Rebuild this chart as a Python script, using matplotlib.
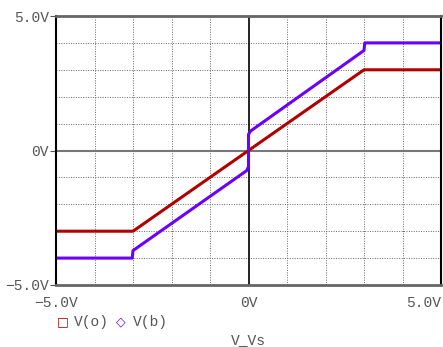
import matplotlib.pyplot as plt

# breakpoints
vs_o = [-5.0, -3.0, 3.0, 5.0]
v_o = [-3.0, -3.0, 3.0, 3.0]

vs_b = [-5.0, -3.02, -3.0, -0.05, 0.0, 0.0, 0.05, 3.0, 3.02, 5.0]
v_b = [-4.0, -4.0, -3.72, -0.75, -0.6, 0.6, 0.72, 3.72, 4.0, 4.0]

xticks = [-5, 0, 5]
xlabels = ["\u22125.0V", "0V", "5.0V"]
yticks = [-5, 0, 5]
ylabels = ["\u22125.0V", "0V", "5.0V"]

red = "#b00000"
blue = "#6a00ff"
gray = "#555555"
mono = ["Liberation Mono", "DejaVu Sans Mono"]

fig = plt.figure(figsize=(4.43, 3.47), dpi=100)
ax = fig.add_axes([56/443, 62/347, 385/443, 269/347])

ax.plot(vs_o, v_o, color=red, lw=2.2, solid_capstyle="butt")
ax.plot(vs_b, v_b, color=blue, lw=2.2, solid_capstyle="butt")

ax.set_xlim(-5, 5)
ax.set_ylim(-5, 5)

# dotted grid every 1 V
for g in range(-4, 5):
    if g == 0:
        continue
    ax.axvline(g, color="#666666", lw=0.7, ls=(0, (1, 1.5)), zorder=0)
    ax.axhline(g, color="#666666", lw=0.7, ls=(0, (1, 1.5)), zorder=0)
ax.axvline(0, color="black", lw=1.2, zorder=1)
ax.axhline(0, color="#777777", lw=1.5, zorder=1)

for s in ["left", "right"]:
    ax.spines[s].set_color("black")
    ax.spines[s].set_linewidth(1.5)
for s in ["top", "bottom"]:
    ax.spines[s].set_color("#666666")
    ax.spines[s].set_linewidth(2)

ax.set_xticks(xticks)
ax.set_xticklabels(xlabels, family=mono, color=gray, fontsize=10.5)
ax.set_yticks(yticks)
ax.set_yticklabels(ylabels, family=mono, color=gray, fontsize=10.5)
ax.tick_params(axis="x", length=0, pad=8)
ax.tick_params(axis="y", length=4, color=gray, pad=1)
ax.get_xticklabels()[2].set_ha("right")

# legend row
ly = 1 - 322/347
fig.text(57/443, ly, "\u25a1", color=red, fontsize=9, family=["DejaVu Sans"], va="center")
fig.text(74/443, ly, "V(o)", color=gray, fontsize=10.5, family=mono, va="center")
fig.text(116/443, ly, "\u25c7", color=blue, fontsize=9, family=["DejaVu Sans"], va="center")
fig.text(133/443, ly, "V(b)", color=gray, fontsize=10.5, family=mono, va="center")
fig.text(248/443, 1 - 340/347, "V_Vs", color=gray, fontsize=10.5, family=mono, ha="center", va="center")

fig.savefig("out.png", dpi=100)
